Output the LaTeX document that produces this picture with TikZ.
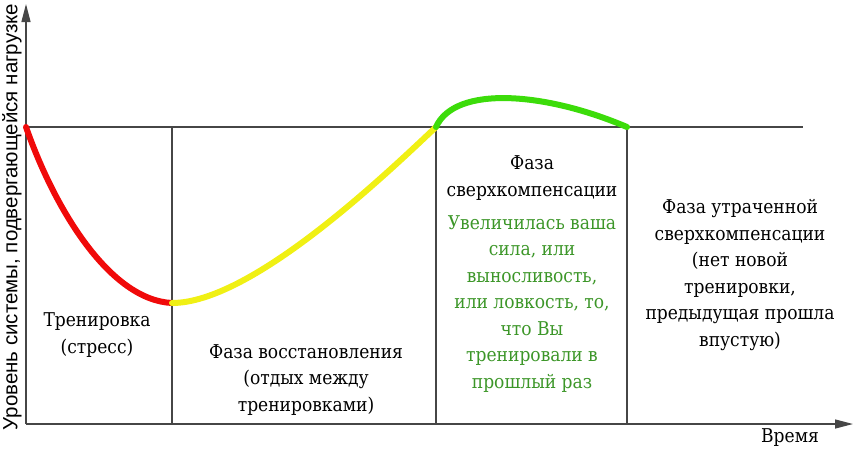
\documentclass[tikz,border=0pt]{standalone}
\usepackage{fontspec}
\newfontfamily\bodyfont{DejaVu Serif Condensed}
\newfontfamily\ylabfont{Liberation Sans}
\usetikzlibrary{arrows.meta}
\definecolor{axisgray}{RGB}{70,70,70}
\definecolor{curvered}{RGB}{240,10,10}
\definecolor{curveyellow}{RGB}{240,240,20}
\definecolor{curvegreen}{RGB}{60,220,10}
\definecolor{textgreen}{RGB}{60,150,40}
\tikzset{
  gridline/.style={draw=axisgray, line width=1.1pt},
  axisline/.style={draw=axisgray, line width=1.3pt, -{Triangle[length=18pt,width=9pt]}},
  curve/.style={line width=6pt, line cap=round},
  lbl/.style={align=center, font=\bodyfont\fontsize{19}{26.5}\selectfont, inner sep=0pt},
}
\begin{document}
\begin{tikzpicture}[x=1pt,y=-1pt]
\useasboundingbox (0,0) rectangle (859,456);
% grid
\coordinate (o) at (26,424);
\coordinate (ytop) at (26,4);
\coordinate (xend) at (853,424);
\coordinate (h0) at (26,127);
\coordinate (h1) at (803,127);
\coordinate (a1) at (172,127); \coordinate (b1) at (172,424);
\coordinate (a2) at (436,127); \coordinate (b2) at (436,424);
\coordinate (a3) at (627,127); \coordinate (b3) at (627,424);
\draw[gridline] (h0) -- (h1);
\draw[gridline] (a1) -- (b1);
\draw[gridline] (a2) -- (b2);
\draw[gridline] (a3) -- (b3);
\draw[axisline] (o) -- (ytop);
\draw[axisline] (o) -- (xend);
% curve
\coordinate (c0) at (26,127);
\coordinate (c1) at (172,303);
\coordinate (c2) at (436,127);
\coordinate (c3) at (627,127);
\draw[curve, draw=curvered] (c0) .. controls (55,210) and (110,300) .. (c1);
\draw[curve, draw=curveyellow] (c1) .. controls (250,303) and (380,180) .. (c2);
\draw[curve, draw=curvegreen] (c2) .. controls (455,85) and (545,92) .. (c3);
% labels
\node[lbl] (train) at (97,335) {Тренировка\\(стресс)};
\node[lbl] (recov) at (306,380) {Фаза восстановления\\(отдых между\\тренировками)};
\node[lbl] (super) at (532,178) {Фаза\\сверхкомпенсации};
\node[lbl, text=textgreen] (gain) at (532,304) {Увеличилась ваша\\сила, или\\выносливость,\\или ловкость, то,\\что Вы\\тренировали в\\прошлый раз};
\node[lbl] (lost) at (740,275) {Фаза утраченной\\сверхкомпенсации\\(нет новой\\тренировки,\\предыдущая прошла\\впустую)};
\node[lbl] (time) at (790,438) {Время};
\node[inner sep=0pt, rotate=90, font=\ylabfont\fontsize{20.5}{22}\selectfont] (ylab) at (12,217) {Уровень системы, подвергающейся нагрузке};
\end{tikzpicture}
\end{document}
